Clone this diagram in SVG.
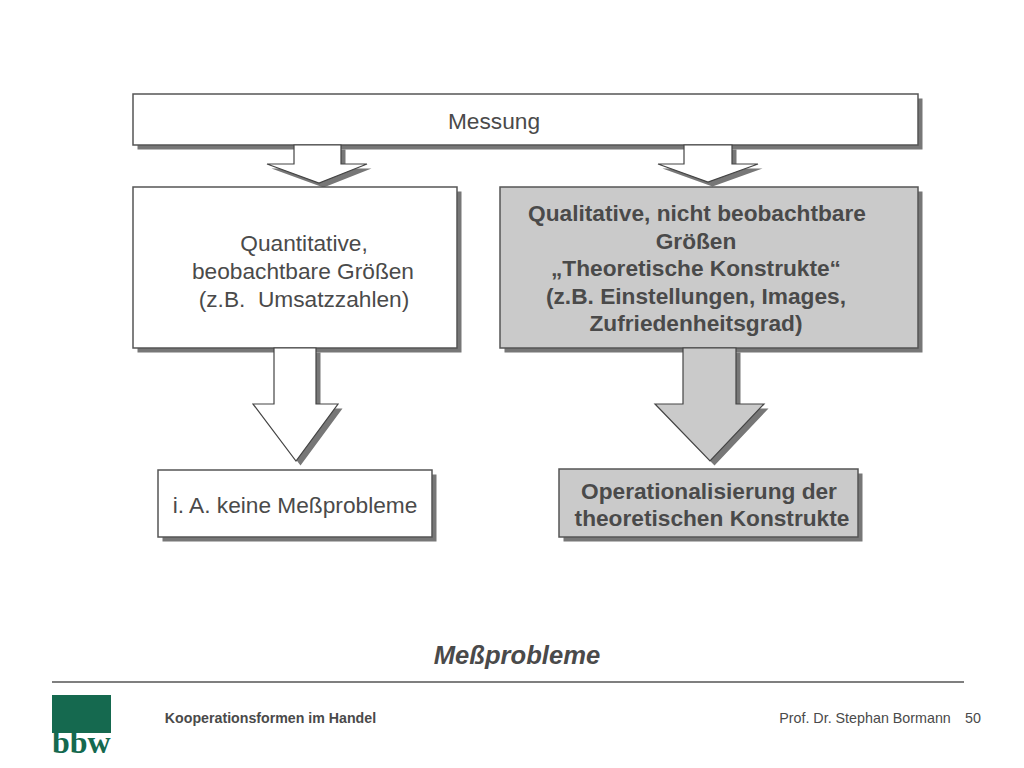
<svg xmlns="http://www.w3.org/2000/svg" width="1024" height="768" viewBox="0 0 1024 768">
<style>
text{font-family:"Liberation Sans",Arial,sans-serif;fill:#4a4a4a;text-anchor:middle}
.t{font-size:22.7px}.b{font-size:22.7px;font-weight:bold}
.s{fill:#777;stroke:none}
.w{fill:#fff;stroke:#555;stroke-width:1.5}
.g{fill:#cacaca;stroke:#555;stroke-width:1.5}
.a{stroke:#444;stroke-width:1.2;stroke-linejoin:miter}
</style>
<defs>
<path id="a1" d="M294 145H341V164H367L319 183L267 164H294Z"/>
<path id="a2" d="M684 145H732V164H758L708 182L658 164H684Z"/>
<path id="a3" d="M274 348H316V404H338L296 461L253 404H274Z"/>
<path id="a4" d="M683 348H736V404H764L710 461L655 404H683Z"/>
</defs>
<g id="connectors">
<use href="#a1" class="s" x="4.5" y="4.5"/>
<use href="#a2" class="s" x="4.5" y="4.5"/>
<use href="#a3" class="s" x="4.5" y="4.5"/>
<use href="#a4" class="s" x="4.5" y="4.5"/>
</g>
<g id="messung"><rect class="s" x="137.5" y="98.5" width="785" height="51"/><rect class="w" x="133" y="94" width="785" height="51"/><text class="t" x="494" y="129">Messung</text></g>
<g id="quantitativ"><rect class="s" x="137.500" y="191.5" width="324" height="161"/><rect class="w" x="133" y="187" width="324" height="161"/>
<text class="t" x="304" y="251">Quantitative,</text><text class="t" x="303" y="279">beobachtbare Größen</text><text class="t" x="304" y="307">(z.B.&#160; Umsatzzahlen)</text></g>
<g id="qualitativ"><rect class="s" x="504.5" y="191.5" width="418" height="161"/><rect class="g" x="500" y="187" width="418" height="161"/>
<text class="b" x="697" y="221">Qualitative, nicht beobachtbare</text><text class="b" x="696" y="249">Größen</text><text class="b" x="696" y="276">„Theoretische Konstrukte“</text><text class="b" x="696" y="304">(z.B. Einstellungen, Images,</text><text class="b" x="696" y="331">Zufriedenheitsgrad)</text></g>
<g id="keine"><rect class="s" x="162.5" y="474.5" width="274" height="67"/><rect class="w" x="158" y="470" width="274" height="67"/><text class="t" x="295" y="513">i. A. keine Meßprobleme</text></g>
<g id="operationalisierung"><rect class="s" x="563.5" y="473.5" width="299" height="68"/><rect class="g" x="559" y="469" width="299" height="68"/>
<text class="b" x="709" y="499">Operationalisierung der</text><text class="b" x="712" y="526">theoretischen Konstrukte</text></g>
<g id="arrows">
<use href="#a1" class="w a"/><use href="#a2" class="w a"/><use href="#a3" class="w a"/><use href="#a4" class="g a"/>
</g>
<text x="517" y="664" style="font-size:25.6px;font-weight:bold;font-style:italic">Meßprobleme</text>
<line x1="52" y1="682" x2="964" y2="682" stroke="#555" stroke-width="1.3"/>
<g id="logo"><rect x="52" y="695" width="59" height="38" fill="#15694f"/>
<text x="52" y="753" style="font-family:'Liberation Serif',serif;font-size:32px;font-weight:bold;fill:#15694f;text-anchor:start">bbw</text></g>
<text x="270.5" y="723" style="font-size:14.2px;font-weight:bold">Kooperationsformen im Handel</text>
<text x="865" y="723" style="font-size:14.3px">Prof. Dr. Stephan Bormann</text>
<text x="973" y="723" style="font-size:14.3px">50</text>
</svg>
